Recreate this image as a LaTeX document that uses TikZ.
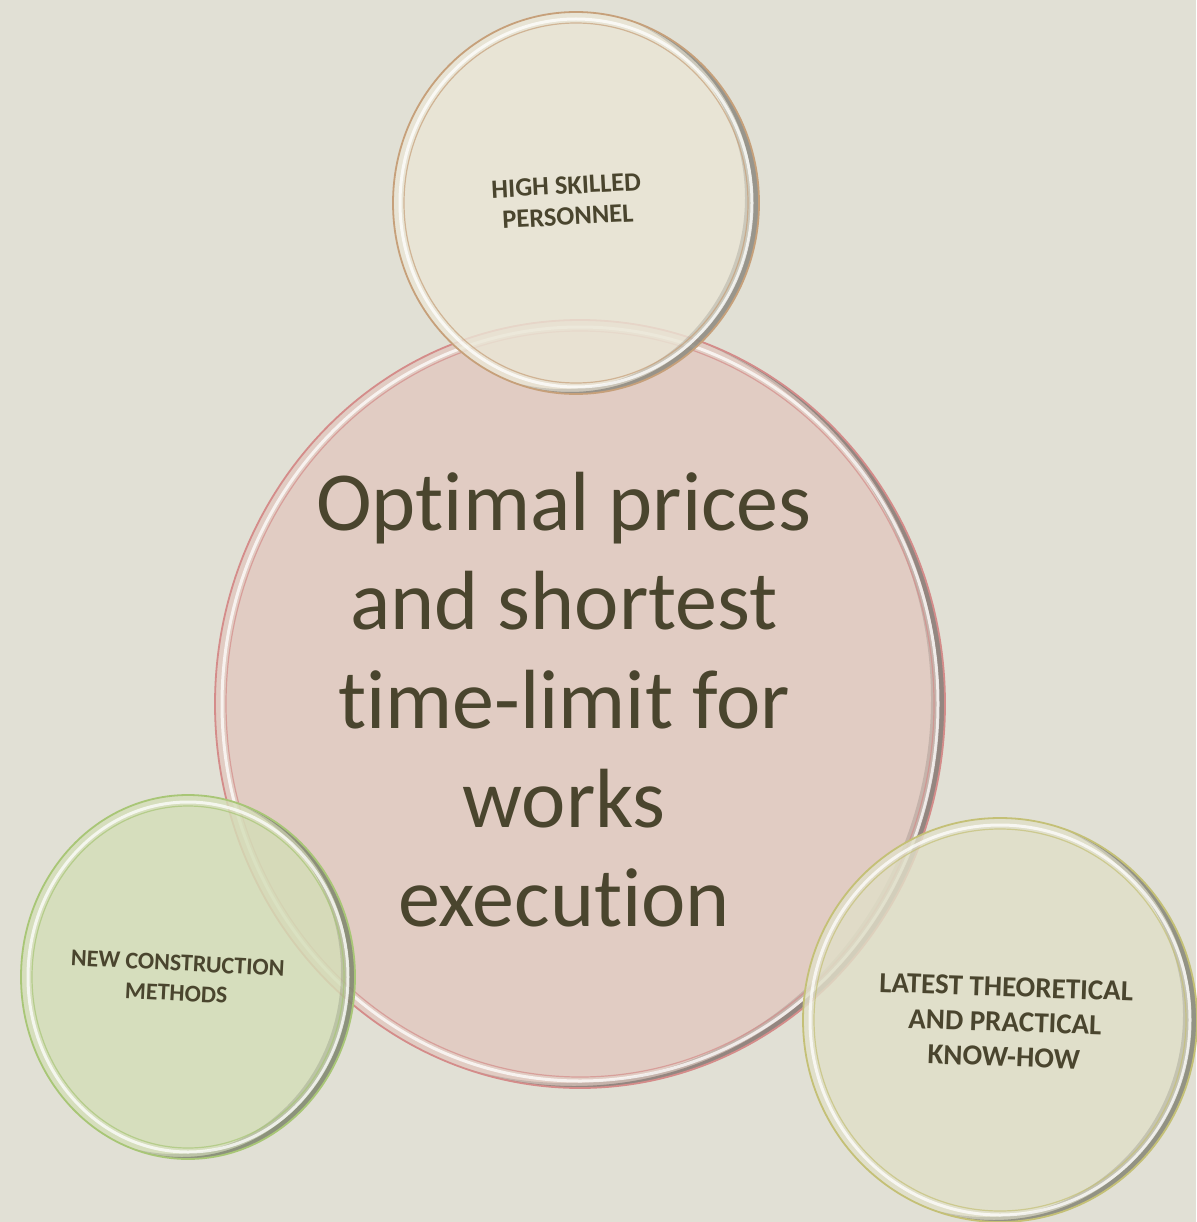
\documentclass[tikz,border=0pt]{standalone}
\usepackage{fontspec}
\setmainfont{Carlito}[RawFeature={-liga,-clig,-calt,-rlig,-dlig}]
\usepackage{xcolor}

\definecolor{bg}{RGB}{225,224,213}
\definecolor{ink}{RGB}{74,69,46}
\definecolor{goalfill}{RGB}{226,200,192}
\definecolor{goalrim}{RGB}{212,140,138}
\definecolor{stafffill}{RGB}{234,230,214}
\definecolor{staffrim}{RGB}{198,160,122}
\definecolor{methfill}{RGB}{212,222,184}
\definecolor{methrim}{RGB}{168,198,118}
\definecolor{knowfill}{RGB}{224,223,200}
\definecolor{knowrim}{RGB}{196,192,118}

\tikzset{
  bigtext/.style={text=ink,align=center,inner sep=0pt,
    font=\fontsize{84}{99}\selectfont},
  captext/.style 2 args={text=ink,align=center,inner sep=0pt,
    font=\fontsize{#1}{#2}\selectfont\bfseries}
}

\begin{document}
\begin{tikzpicture}[x=1pt,y=-1pt,line cap=round]
\fill[bg] (0,0) rectangle (1196,1222);
\useasboundingbox (0,0) rectangle (1196,1222);
% glass bubbles: centre, radii, fill, rim
\foreach \cx/\cy/\rx/\ry/\fc/\rc in {
  580/704/365/384/goalfill/goalrim,
  576/203/183/191/stafffill/staffrim,
  188/977/167/182/methfill/methrim,
  1000/1020/197/202/knowfill/knowrim}{
  \fill[\fc,fill opacity=.82] (\cx,\cy) ellipse [x radius=\rx,y radius=\ry];
  \begin{scope}
    \clip (\cx,\cy) ellipse [x radius=\rx,y radius=\ry];
    \fill[black,opacity=.12,even odd rule] (\cx,\cy) ellipse [x radius=\rx,y radius=\ry]
      (\cx-14,\cy-5) ellipse [x radius=\rx,y radius=\ry];
    \fill[black,opacity=.25,even odd rule] (\cx,\cy) ellipse [x radius=\rx,y radius=\ry]
      (\cx-6,\cy-2) ellipse [x radius=\rx,y radius=\ry];
  \end{scope}
  \draw[\rc,line width=1.8] (\cx,\cy) ellipse [x radius=\rx,y radius=\ry];
  \draw[white,opacity=.75,line width=3] (\cx,\cy) ellipse [x radius=\rx-7,y radius=\ry-7];
  \draw[\rc,opacity=.7,line width=1.2] (\cx,\cy) ellipse [x radius=\rx-11,y radius=\ry-11];
}
\node[bigtext] (goal) at (564,700) {Opt\kern0pt imal prices\\and shortest\\t\kern0pt ime-limit for\\works\\execution};
\node[captext={26.5}{31},rotate=3] (staff) at (567,201) {HIGH SKILLED\\PERSONNEL};
\node[captext={24}{30},rotate=-3] (methods) at (177,978) {NEW CONSTRUCTION\\METHODS};
\node[captext={29}{35},rotate=-2] (knowhow) at (1005,1022) {LATEST THEORETICAL\\AND PRACTICAL\\KNOW-HOW};
\end{tikzpicture}
\end{document}
